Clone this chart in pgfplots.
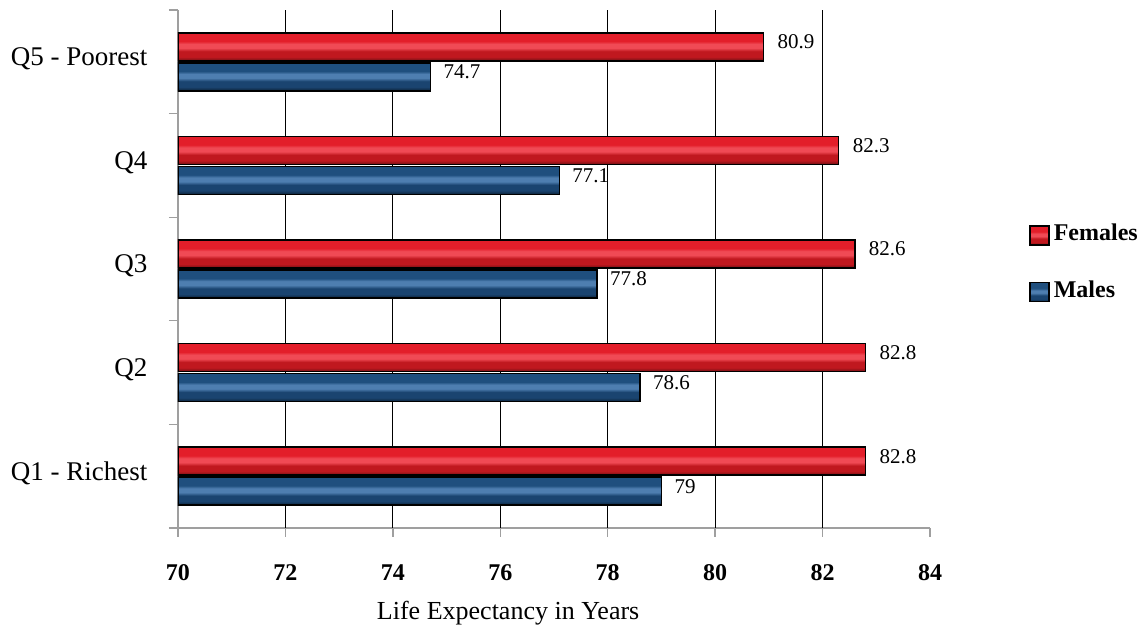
\documentclass[border=0pt]{standalone}
\usepackage{fontspec}
\setmainfont{Liberation Serif}
\usepackage{pgfplots}
\pgfplotsset{compat=1.18}

\definecolor{rdark}{HTML}{6E1014}
\definecolor{rlow}{HTML}{C0181F}
\definecolor{rmain}{HTML}{E31E2A}
\definecolor{rlight}{HTML}{F04A55}
\definecolor{bdark}{HTML}{0C2238}
\definecolor{blow}{HTML}{1A4470}
\definecolor{bmain}{HTML}{1F4F7E}
\definecolor{blight}{HTML}{4E7EB0}

\pgfdeclareverticalshading{redbar}{100bp}{color(0bp)=(rdark); color(25bp)=(rdark); color(32bp)=(rlow); color(42bp)=(rlow); color(48bp)=(rlight); color(55bp)=(rlight); color(60bp)=(rmain); color(75bp)=(rmain); color(100bp)=(rmain)}
\pgfdeclareverticalshading{bluebar}{100bp}{color(0bp)=(bdark); color(25bp)=(bdark); color(32bp)=(blow); color(42bp)=(blow); color(48bp)=(blight); color(55bp)=(blight); color(60bp)=(bmain); color(75bp)=(bmain); color(100bp)=(bmain)}

\pgfplotsset{
  mylegend/.style={legend image code/.code={\draw[##1, draw=black, line width=1.3pt] (0pt,-12pt) rectangle (19pt,7pt);}},
  fem/.style={xbar, bar shift=15pt, draw=black, line width=1.5pt, shading=redbar, mylegend,
    nodes near coords style={xshift=10pt, yshift=5pt}},
  mal/.style={xbar, bar shift=-15pt, draw=black, line width=1.5pt, shading=bluebar, mylegend,
    nodes near coords style={xshift=9pt, yshift=5pt}},
}

\begin{document}
\begin{tikzpicture}
\begin{axis}[
  at={(0,0)}, anchor=south west,
  scale only axis, width=752pt, height=518pt,
  xmin=70, xmax=84, ymin=0.5, ymax=5.5,
  xbar, bar width=28pt,
  axis x line*=bottom, axis y line*=left,
  axis line style={draw=gray!75, line width=1.3pt},
  tick align=outside,
  major tick length=9pt,
  tick style={draw=gray!75, line width=1.3pt},
  xtick={70,72,...,84},
  xticklabel style={font=\bfseries\fontsize{24}{28}\selectfont, yshift=-24pt},
  /pgf/number format/assume math mode=true,
  extra x ticks={72,74,...,82},
  extra x tick labels={},
  extra x tick style={major tick length=0pt, grid=major, major grid style={draw=black, line width=1.2pt}},
  ytick={0.5,1.5,...,5.5},
  yticklabels={},
  extra y ticks={1,2,3,4,5},
  extra y tick labels={Q1 - Richest, Q2, Q3, Q4, Q5 - Poorest},
  extra y tick style={major tick length=0pt, yticklabel style={font=\fontsize{27}{32}\selectfont, xshift=-27pt, yshift=3pt}},
  xlabel={Life Expectancy in Years},
  xlabel style={at={(rel axis cs:0.439,0)}, anchor=north, yshift=-70pt, font=\fontsize{26}{30}\selectfont},
  nodes near coords,
  nodes near coords style={font=\fontsize{21}{24}\selectfont, anchor=west},
  legend style={at={(rel axis cs:1.128,0.595)}, anchor=north west, draw=none, fill=none,
    font=\bfseries\fontsize{24}{28}\selectfont, row sep=33pt, column sep=2pt, legend cell align=left},
]
\addplot[fem] coordinates {(82.8,1)};
\addlegendentry{Females}
\addplot[mal] coordinates {(79,1)};
\addlegendentry{Males}
\addplot[fem, forget plot] coordinates {(82.8,2)};
\addplot[fem, forget plot] coordinates {(82.6,3)};
\addplot[fem, forget plot] coordinates {(82.3,4)};
\addplot[fem, forget plot] coordinates {(80.9,5)};
\addplot[mal, forget plot] coordinates {(78.6,2)};
\addplot[mal, forget plot] coordinates {(77.8,3)};
\addplot[mal, forget plot] coordinates {(77.1,4)};
\addplot[mal, forget plot] coordinates {(74.7,5)};
\end{axis}
\pgfresetboundingbox
\path (-178pt,-103pt) rectangle (968pt,528pt);
\end{tikzpicture}
\end{document}
